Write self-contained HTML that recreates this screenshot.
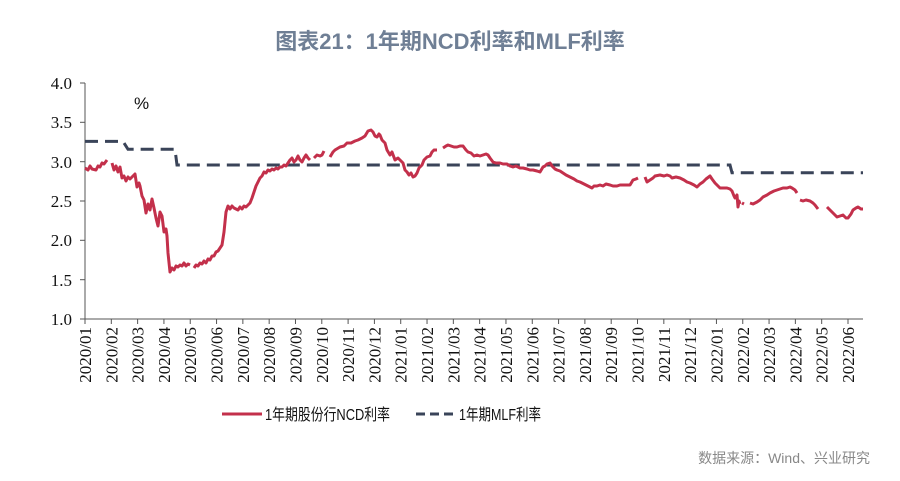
<!DOCTYPE html>
<html><head><meta charset="utf-8"><style>
body{margin:0;background:#fff;}
svg{display:block;}
</style></head><body>
<svg width="900" height="481" xmlns="http://www.w3.org/2000/svg">
<rect width="900" height="481" fill="#fff"/>
<text x="450" y="49" text-anchor="middle" font-family="Liberation Sans, Noto Sans CJK SC, sans-serif" font-size="22" font-weight="bold" fill="#6f7f95">图表21：1年期NCD利率和MLF利率</text>
<g font-family="Liberation Serif, serif" font-size="17" fill="#111" text-anchor="end">
<text x="72" y="89">4.0</text><text x="72" y="128">3.5</text><text x="72" y="168">3.0</text>
<text x="72" y="207">2.5</text><text x="72" y="246">2.0</text><text x="72" y="286">1.5</text><text x="72" y="325">1.0</text>
</g>
<text x="134" y="109" font-family="Liberation Sans, sans-serif" font-size="17" fill="#111">%</text>
<g stroke="#555" stroke-width="1" fill="none">
<line x1="85" y1="83" x2="85" y2="319"/>
<line x1="85" y1="319" x2="863" y2="319"/>
<line x1="80" y1="83" x2="85" y2="83"/><line x1="80" y1="122.3" x2="85" y2="122.3"/><line x1="80" y1="161.7" x2="85" y2="161.7"/><line x1="80" y1="201" x2="85" y2="201"/><line x1="80" y1="240.3" x2="85" y2="240.3"/><line x1="80" y1="279.7" x2="85" y2="279.7"/><line x1="80" y1="319" x2="85" y2="319"/>
</g>
<g id="xt"></g>
<polyline fill="none" stroke="#3a4459" stroke-width="3" stroke-dasharray="13,7" points="85,141.4 123,141.4 128,149.3 175,149.3 177,165 730,165 732,172.8 863,172.8"/>
<g fill="none" stroke="#c3304b" stroke-width="3" stroke-linejoin="round">
<polyline points="85,168 88,170 90,166 92,169 96,170 98,166 100,167 102,163 104,164 107,160"/>
<polyline points="112,163 114,170 116,166 118,172 120,167 122,178 124,176 126,181 128,177 130,179 133,176 135,174 137,187 139,183 140,186 142,196 144,200 146,213 148,204 150,210 152,199 154,208 156,218 158,226 160,212 162,216 164,232 166,229 167,236 168,253 170,272 172,268 174,270 176,266 178,267 180,265 182,266 184,263 186,266 188,264 190,265"/>
<polyline points="194,268 196,265 198,266 200,263 202,264 204,261 206,263 208,259 210,260 212,256 214,256 216,252 218,251 220,248 222,245 224,232 226,212 228,206 230,209 232,206 234,208 238,210 240,207 242,209 244,206 246,207 248,205 250,203 252,198 254,192 256,186 258,182 260,178 262,176 264,172 266,173 268,170 270,171 272,169 274,170 276,168 278,169 280,167 282,167 284,165 286,166 288,163 290,160 292,158 294,162 296,160 298,156 300,160 302,162 304,158 306,155 308,158 310,160"/>
<polyline points="314,158 317,155 320,156 322,155 324,151"/>
<polyline points="330,157 333,152 335,150 340,147 344,146 347,143 351,143 355,141 358,140 362,138 365,136 368,131 371,130 373,132 375,136 377,137 379,134 380,135 382,140 385,143 387,150 390,155 392,152 395,160 398,158 400,160 403,163 405,170 407,172 409,175 411,173 413,177 415,176 417,173 419,168 422,165 424,160 427,157 430,156 432,152 434,150 437,150"/>
<polyline points="443,148 446,146 448,145 451,146 454,147 457,147 460,146 463,146 466,150 468,152 471,153 474,156 477,155 480,156 483,155 486,154 488,155 490,158 493,162 496,163 500,163 503,164 507,164 510,166 513,167 516,166 520,168 523,168 527,169 530,170 533,170 537,171 540,172 543,167 545,166 547,164 550,163 552,166 555,169 557,170 560,171 563,173 566,175 570,177 574,179 577,181 580,182 584,184 588,186 592,188 594,186 597,186 600,185 603,186 606,184 610,185 613,186 617,186 620,185 624,185 627,185 630,185 633,180 636,179 638,178"/>
<polyline points="645,177 647,182 650,180 653,178 655,176 660,175 664,176 667,175 670,176 672,178 676,177 680,178 684,180 687,182 690,183 694,185 697,187 700,184 703,182 706,179 710,176 712,179 715,183 718,186 720,188 724,188 727,188 730,189 732,191 734,196 735,198 737,195 738,207 739,201 740,204"/>
<polyline points="742,203 744,204"/>
<polyline points="750,203 753,204 757,202 760,200 763,197 767,195 770,193 774,191 777,190 780,189 783,188 787,188 790,187 792,188 795,190 797,193"/>
<polyline points="800,200 803,201 806,200 810,201 813,203 815,205 818,209"/>
<polyline points="827,207 830,210 833,213 837,217 840,216 843,215 846,218 848,218 851,214 853,210 856,208 858,207 861,209 863,209"/>
</g>
<g id="xl" font-family="Liberation Serif, serif" font-size="17" fill="#111"></g>
<line x1="222" y1="414" x2="262" y2="414" stroke="#c3304b" stroke-width="3"/>
<text x="265" y="420" font-family="Liberation Sans, Noto Sans CJK SC, sans-serif" font-size="16" fill="#111" textLength="125" lengthAdjust="spacingAndGlyphs">1年期股份行NCD利率</text>
<line x1="416" y1="414" x2="456" y2="414" stroke="#3a4459" stroke-width="3" stroke-dasharray="9,5"/>
<text x="459" y="420" font-family="Liberation Sans, Noto Sans CJK SC, sans-serif" font-size="16" fill="#111" textLength="82" lengthAdjust="spacingAndGlyphs">1年期MLF利率</text>
<text x="870" y="463" text-anchor="end" font-family="Liberation Sans, Noto Sans CJK SC, sans-serif" font-size="14" fill="#888">数据来源：Wind、兴业研究</text>
<script>
var labs=[];for(var y=2020;y<=2022;y++)for(var m=1;m<=12;m++){if(y==2022&&m>6)break;labs.push(y+"/"+(m<10?"0":"")+m);}
var xt=document.getElementById("xt"),xl=document.getElementById("xl"),ns="http://www.w3.org/2000/svg";
labs.forEach(function(l,i){var x=85+i*26.31;
var t=document.createElementNS(ns,"line");t.setAttribute("x1",x);t.setAttribute("x2",x);t.setAttribute("y1",319);t.setAttribute("y2",324);t.setAttribute("stroke","#555");xt.appendChild(t);
var s=document.createElementNS(ns,"text");s.setAttribute("transform","translate("+(x+6)+",327) rotate(-90)");s.setAttribute("text-anchor","end");s.textContent=l;xl.appendChild(s);});
</script>
</svg>
</body></html>
